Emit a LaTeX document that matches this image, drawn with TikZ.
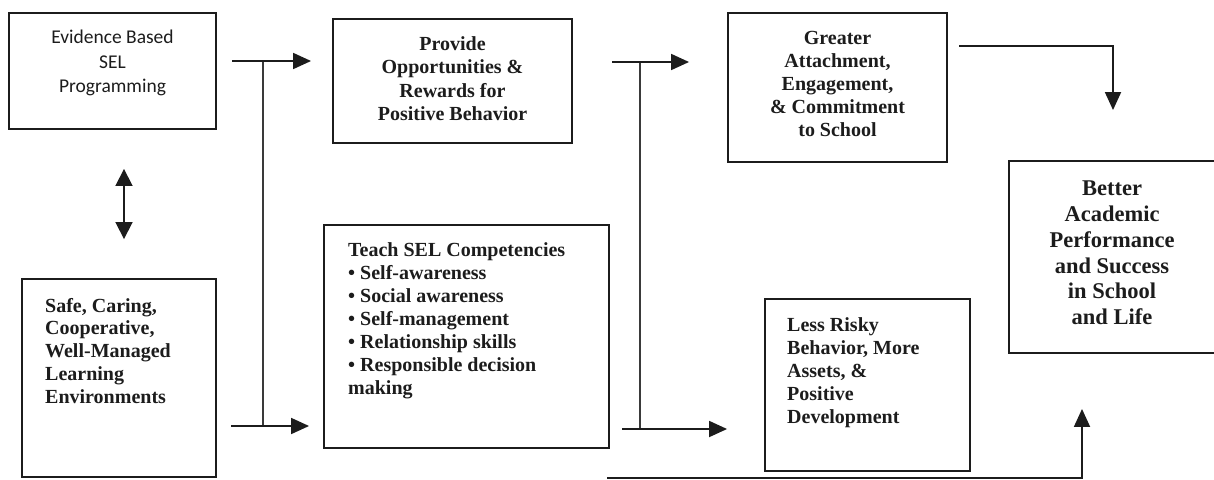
\documentclass[tikz,border=0pt]{standalone}
\usepackage{fontspec}
\setmainfont{Liberation Serif}
\newfontfamily\calfont{Carlito}
\usetikzlibrary{arrows.meta}
\definecolor{ink}{HTML}{1C1C1C}
\definecolor{stem}{HTML}{3A3A3A}
\begin{document}
\begin{tikzpicture}[x=1pt,y=-1pt,
  box/.style={draw=ink, line width=1.9pt, inner sep=0pt, minimum width=#1},
  boxh/.style={minimum height=#1},
  txt/.style={inner sep=0pt, font=\fontsize{20}{23}\selectfont\bfseries, text=ink},
  arr/.style={draw=ink, line width=1.8pt, -{Triangle[length=18pt,width=16pt]}},
  darr/.style={draw=ink, line width=1.8pt, {Triangle[length=17pt,width=17pt]}-{Triangle[length=17pt,width=17pt]}},
  stemline/.style={draw=stem, line width=1.4pt}]
\useasboundingbox (0,0) rectangle (1214,479);

% boxes
\node[box=207pt, boxh=116pt] (evid)   at (112.5,71)   {};
\node[box=239pt, boxh=124pt] (prov)   at (452.5,81)   {};
\node[box=219pt, boxh=149pt] (great)  at (837.5,87.5) {};
\node[box=206pt, boxh=192pt] (better) at (1112,257)   {};
\node[box=285pt, boxh=223pt] (teach)  at (466.5,336.5){};
\node[box=205pt, boxh=172pt] (risky)  at (867.5,385)  {};
\node[box=194pt, boxh=198pt] (safe)   at (119,378)    {};

% box texts
\node[inner sep=0pt, anchor=north, align=center, text=ink,
      font=\calfont\fontsize{19.5}{24.5}\selectfont] (evidT) at (112.5,26.5)
  {\strut Evidence Based\\SEL\\Programming};
\node[txt, anchor=north, align=center, font=\fontsize{20}{23.3}\selectfont\bfseries] (provT) at (452.5,34)
  {\strut Provide\\Opportunities \&\\Rewards for\\Positive Behavior};
\node[txt, anchor=north, align=center] (greatT) at (837.5,28)
  {\strut Greater\\Attachment,\\Engagement,\\\& Commitment\\to School};
\node[txt, anchor=north, align=center, font=\fontsize{22.5}{25.8}\selectfont\bfseries] (betterT) at (1112,177.5)
  {\strut Better\\Academic\\Performance\\and Success\\in School\\and Life};
\node[txt, anchor=north west, align=left] (teachT) at (348,240)
  {\strut Teach SEL Competencies\\%
   \textbullet{} Self-awareness\\%
   \textbullet{} Social awareness\\%
   \textbullet{} Self-management\\%
   \textbullet{} Relationship skills\\%
   \textbullet{} Responsible decision\\%
   making};
\node[txt, anchor=north west, align=left, font=\fontsize{20}{22.8}\selectfont\bfseries] (safeT) at (45,296)
  {\strut Safe, Caring,\\Cooperative,\\Well-Managed\\Learning\\Environments};
\node[txt, anchor=north west, align=left] (riskyT) at (787,315)
  {\strut Less Risky\\Behavior, More\\Assets, \&\\Positive\\Development};

% two-way link between programming and environment
\draw[darr, shorten <=39pt, shorten >=39pt] (evid.south -| 124,0) -- (safe.north -| 124,0);

% first branching: both inputs feed both middle boxes
\coordinate (s1) at (232,61);
\coordinate (s2) at (231,426);
\coordinate (k1) at (263,61);
\coordinate (k2) at (263,426);
\draw[stemline] (k1) -- (k2);
\draw[arr, shorten >=21pt] (s1) -- (s1 -| prov.west);
\draw[arr, shorten >=14pt] (s2) -- (s2 -| teach.west);

% second branching: middle boxes feed the two outcomes
\coordinate (s3) at (612,62);
\coordinate (s4) at (622,429);
\coordinate (k3) at (640,62);
\coordinate (k4) at (640,429);
\draw[stemline] (k3) -- (k4);
\draw[arr, shorten >=38pt] (s3) -- (s3 -| great.west);
\draw[arr, shorten >=37pt] (s4) -- (s4 -| risky.west);

% attachment leads to academic success
\coordinate (s5) at (959,46);
\draw[arr, shorten >=50pt] (s5) -| ([xshift=1pt]better.north);

% long return line from the bottom into academic success
\coordinate (s6) at (607,478);
\draw[arr, shorten >=55pt] (s6) -| ([xshift=-30pt]better.south);
\end{tikzpicture}
\end{document}
